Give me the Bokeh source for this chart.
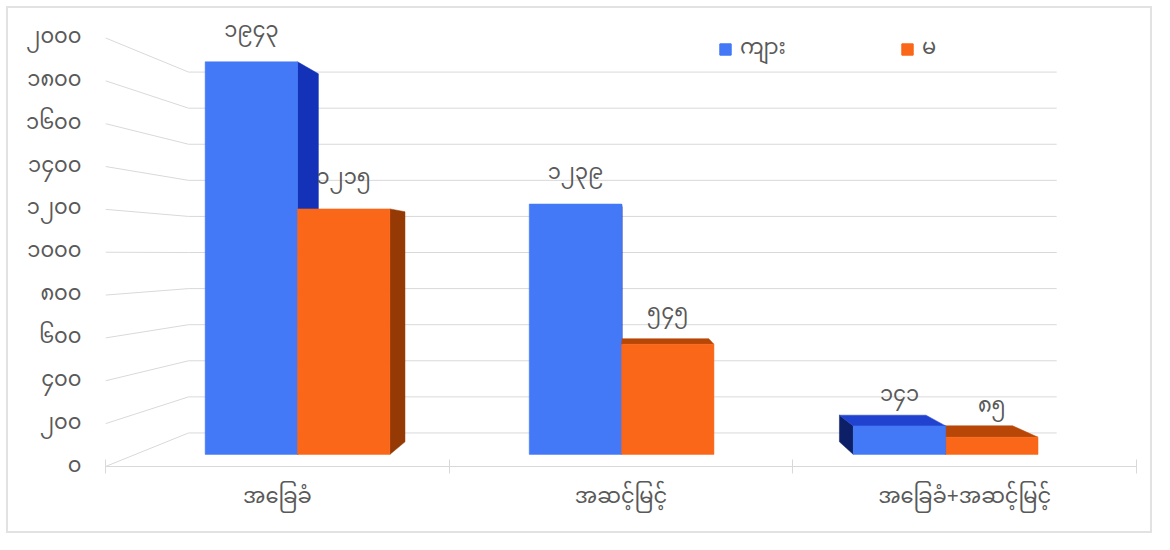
from bokeh.core.properties import value
from bokeh.embed import file_html
from bokeh.models import FixedTicker, Legend, LegendItem
from bokeh.plotting import figure
from bokeh.resources import INLINE

categories = ["အခြေခံ", "အဆင့်မြင့်", "အခြေခံ+အဆင့်မြင့်"]
series_names = ["ကျား", "မ"]
male = [1943, 1239, 141]
female = [1215, 545, 85]
y_ticks = [0, 200, 400, 600, 800, 1000, 1200, 1400, 1600, 1800, 2000]

MM_DIGITS = str.maketrans("0123456789", "၀၁၂၃၄၅၆၇၈၉")


def mm(n):
    return str(n).translate(MM_DIGITS)


FONT = "'Noto Sans Myanmar', 'Noto Sans', sans-serif"
TEXT = "#595959"
GRID = "#d9d9d9"

blue = dict(front="#4379F6", side_r="#1332B8", side_l="#0D1F66", top="#2142CF")
orange = dict(front="#FA6719", side_r="#953905", side_l="#6B2803", top="#B84707")

# fake 3d: data coords are the plane of the floor's front edge,
# deeper things are pulled towards a vanishing point
VX, VY = 1.53, 991
F_FRONT, F_BACK, F_WALL = 0.943, 0.884, 0.842
BAR_W = 0.285


def proj(x, y, f):
    return VX + (x - VX) * f, VY + (y - VY) * f


p = figure(width=1146, height=527, x_range=(0, 3), y_range=(0, 2100),
           output_backend="svg", toolbar_location=None, tools="",
           min_border_left=97, min_border_right=18, min_border_top=8,
           min_border_bottom=69, outline_line_color=None,
           styles={"border": "2px solid #e2e2e2", "margin": "6px 0 0 6px"})
p.xgrid.visible = False
p.ygrid.visible = False

# walls: left side wall + back wall lines
gx, gy = [], []
for v in y_ticks:
    bx0, by = proj(0, v, F_WALL)
    bx1, _ = proj(3, v, F_WALL)
    gx.append([0, bx0, bx1])
    gy.append([v, by, by])
p.multi_line(gx, gy, line_color=GRID, line_width=1)

bars = []
for i in range(len(categories)):
    c = i + 0.5
    bars.append((c - BAR_W, c, male[i], blue, 0))
    bars.append((c, c + BAR_W, female[i], orange, 1))
# paint the ones furthest from the vanishing point first
bars.sort(key=lambda b: -abs((b[0] + b[1]) / 2 - VX))

fronts = {0: [], 1: []}
lab_x, lab_y, lab_t = [], [], []
for x0, x1, v, col, s in bars:
    xs, ys, cols = [], [], []
    if x1 < VX:
        pts = [proj(x1, 0, F_FRONT), proj(x1, v, F_FRONT), proj(x1, v, F_BACK), proj(x1, 0, F_BACK)]
        xs.append([q[0] for q in pts]); ys.append([q[1] for q in pts]); cols.append(col["side_r"])
    if x0 > VX:
        pts = [proj(x0, 0, F_FRONT), proj(x0, v, F_FRONT), proj(x0, v, F_BACK), proj(x0, 0, F_BACK)]
        xs.append([q[0] for q in pts]); ys.append([q[1] for q in pts]); cols.append(col["side_l"])
    if v < VY:
        pts = [proj(x0, v, F_FRONT), proj(x1, v, F_FRONT), proj(x1, v, F_BACK), proj(x0, v, F_BACK)]
        xs.append([q[0] for q in pts]); ys.append([q[1] for q in pts]); cols.append(col["top"])
    if xs:
        p.patches(xs, ys, fill_color=cols, line_color=cols, line_width=0.5)
    fx0, fy0 = proj(x0, 0, F_FRONT)
    fx1, fy1 = proj(x1, v, F_FRONT)
    r = p.quad(left=[fx0], right=[fx1], bottom=[fy0], top=[fy1],
               fill_color=col["front"], line_color=col["front"], line_width=0.5)
    fronts[s].append(r)
    lab_x.append((fx0 + fx1) / 2)
    lab_y.append(fy1)
    lab_t.append(mm(v))

p.text(lab_x, lab_y, text=lab_t, text_align="center", text_baseline="middle",
       y_offset=-30, text_font=value(FONT), text_font_size="21px", text_color=TEXT)

# axes
p.xaxis.ticker = FixedTicker(ticks=[0.5, 1.5, 2.5], minor_ticks=[0, 1, 2, 3])
p.xaxis.major_label_overrides = {i + 0.5: c for i, c in enumerate(categories)}
p.xaxis.major_tick_line_color = None
p.xaxis.minor_tick_in = 7
p.xaxis.minor_tick_out = 7
p.xaxis.minor_tick_line_color = GRID
p.xaxis.axis_line_color = GRID
p.xaxis.major_label_standoff = 1
p.xaxis.major_label_text_font = FONT
p.xaxis.major_label_text_font_size = "21px"
p.xaxis.major_label_text_color = TEXT

p.yaxis.ticker = FixedTicker(ticks=y_ticks)
p.yaxis.major_label_overrides = {t: mm(t) for t in y_ticks}
p.yaxis.axis_line_color = None
p.yaxis.major_tick_line_color = None
p.yaxis.minor_tick_line_color = None
p.yaxis.major_label_standoff = 18
p.yaxis.major_label_text_font = FONT
p.yaxis.major_label_text_font_size = "21px"
p.yaxis.major_label_text_color = TEXT
p.yaxis.major_label_text_baseline = "alphabetic"

for s, lx in [(0, 613), (1, 795)]:
    leg = Legend(items=[LegendItem(label=series_names[s], renderers=fronts[s])],
                 location=(lx, 394), padding=0, margin=0, border_line_color=None,
                 background_fill_alpha=0, glyph_width=14, glyph_height=14,
                 label_standoff=8, label_height=28,
                 label_text_font=FONT, label_text_font_size="21px",
                 label_text_color=TEXT)
    p.add_layout(leg)

open("out.html", "w").write(file_html(p, INLINE))
